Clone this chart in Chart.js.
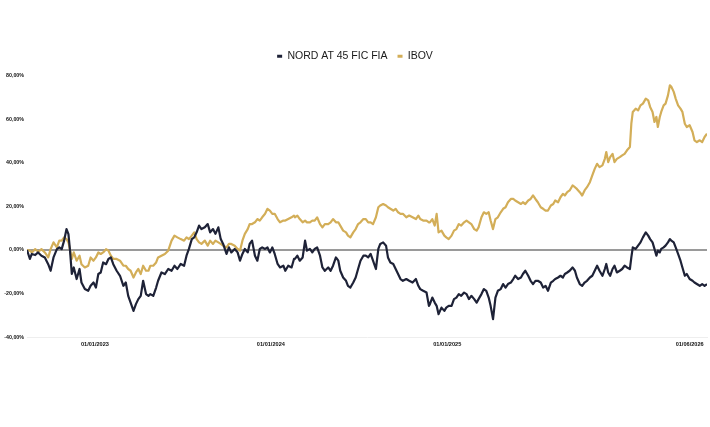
<!DOCTYPE html>
<html>
<head>
    <meta charset="UTF-8">
    <title>NORD AT 45 FIC FIA x IBOV</title>
    <style>
        body { margin: 0; background: #ffffff; }
    </style>
    <script src="https://cdnjs.cloudflare.com/ajax/libs/Chart.js/4.4.1/chart.umd.min.js"></script>
</head>
<body>
    <canvas id="perfChart" width="710" height="427"></canvas>

    <script>
        // days since the first observation (mid Aug 2022)
        const obsDay = [
            0, 6, 10, 17, 23, 30, 37, 44, 49, 55, 62, 67, 72, 77, 82, 86, 89, 93, 97, 103,
            109, 113, 120, 127, 132, 138, 143, 148, 153, 158, 164, 169, 174, 179, 186, 193, 200, 205, 210, 215,
            221, 226, 231, 236, 241, 247, 252, 256, 262, 268, 272,
            279, 286, 293, 300, 306, 312, 319, 326, 331, 336, 342, 347, 352, 357, 362, 369, 375, 380, 386, 391,
            397, 402, 407, 414, 419, 424, 431, 437, 442, 447, 452, 458, 462, 467, 473, 478, 483, 488, 494, 499,
            504, 509, 514, 520, 525, 532, 536, 542, 549, 554,
            556, 561, 566, 572, 577, 581, 587, 592, 597, 602, 608, 613, 618, 625, 630, 635, 641, 646, 650, 656,
            662, 666, 671, 677, 682, 687, 692, 698, 703, 708, 713, 718, 724, 729, 733, 739, 745, 749, 754, 760,
            765, 770, 775, 780, 787, 793, 800, 807, 812, 816, 822, 829, 834,
            836, 841, 846, 850, 854, 860, 866, 870, 875, 881, 886, 891, 896, 901, 907, 912, 917, 922, 928, 933,
            937, 943, 948, 953, 958, 962, 967, 972, 977, 983, 988, 993, 998, 1004, 1009, 1013, 1019, 1025, 1029, 1034,
            1040, 1045, 1050, 1055, 1060, 1066, 1071, 1076, 1081, 1087, 1092, 1096, 1102, 1107, 1112,
            1116, 1121, 1126, 1132, 1137, 1141, 1147, 1152, 1157, 1162, 1168, 1173, 1178, 1183, 1188, 1194, 1199, 1202, 1206, 1210,
            1215, 1219, 1224, 1230, 1235, 1240, 1245, 1251, 1254, 1257, 1263, 1268, 1273, 1278, 1284, 1289, 1293, 1298, 1302, 1306,
            1309, 1313, 1316, 1321, 1325, 1330, 1334, 1337, 1342, 1346, 1351, 1356, 1360, 1365, 1369, 1375, 1381, 1385, 1390, 1396,
            1401, 1406, 1411
        ];

        const nordValues = [
            0, -4.1, -1.8, -2.3, -1.1, -2.6, -3.4, -6.5, -9.5, -3.4, 0.4, 1.2, 0.4, 4.3, 9.6, 7.3, 0.4, -11.0, -8.0, -13.3,
            -8.7, -14.9, -17.9, -18.7, -16.4, -14.9, -17.2, -11.0, -10.3, -5.7, -6.5, -4.1, -3.4, -6.5, -9.5, -11.8, -16.4, -14.9, -21.0, -24.1,
            -27.9, -24.8, -22.5, -21.0, -14.1, -20.2, -21.0, -20.2, -21.0, -17.2, -14.1,
            -10.3, -11.0, -8.7, -9.5, -7.2, -8.7, -6.4, -7.2, -2.6, 0.5, 5.0, 5.8, 8.1, 11.2, 9.6, 10.4, 11.9, 8.1, 9.6, 7.4,
            10.4, 5.0, 2.8, -1.8, 1.2, -1.1, 0.5, -1.1, -4.9, -1.8, 0.5, -1.1, 2.8, 4.3, -2.6, -4.9, 0.5, 1.2, 0.5, 1.2,
            -1.1, 1.2, -1.8, -6.4, -8.0, -7.2, -9.5, -7.2, -8.0, -4.1,
            -4.1, -2.6, -4.9, -3.4, 4.3, -0.3, 0.5, -1.1, 0.5, 1.2, -2.6, -8.0, -9.5, -8.0, -9.5, -7.2, -3.4, -4.9, -9.5, -12.6,
            -14.1, -16.4, -17.2, -14.9, -12.6, -8.7, -4.9, -2.6, -2.6, -3.4, -1.8, -4.9, -8.7, 0.5, 2.8, 3.5, 2.0, -3.4, -5.7, -6.4,
            -8.7, -11.0, -13.3, -14.1, -13.3, -14.1, -14.9, -13.3, -16.4, -17.9, -18.7, -19.5, -25.6,
            -24.8, -21.8, -24.1, -25.6, -29.4, -26.4, -27.9, -26.4, -25.6, -25.6, -22.5, -21.8, -20.2, -21.0, -19.5, -20.2, -22.5, -21.0, -22.5, -24.1,
            -22.5, -20.2, -17.9, -18.7, -21.8, -25.6, -31.7, -21.8, -18.7, -17.9, -15.6, -17.2, -15.6, -14.9, -13.3, -11.8, -13.3, -12.6, -11.0, -9.5,
            -11.8, -14.1, -15.6, -14.1, -14.1, -14.9, -17.2, -16.4, -18.7, -14.9, -14.1, -13.3, -12.6, -11.8, -12.6,
            -11.0, -10.3, -9.5, -8.0, -9.5, -12.6, -15.6, -16.4, -14.9, -14.1, -12.6, -11.8, -9.5, -7.2, -9.5, -11.8, -8.7, -6.4, -10.3, -11.8,
            -8.7, -7.2, -10.3, -9.5, -8.7, -7.2, -8.0, -8.7, -3.4, 1.2, 0.5, 2.0, 3.5, 5.8, 8.1, 6.6, 5.0, 3.5, 0.5, -2.6,
            -0.3, -1.1, 0.5, 1.2, 2.0, 3.5, 5.0, 4.3, 3.5, 1.2, -1.8, -4.9, -8.0, -11.8, -11.0, -13.3, -14.1, -14.9, -15.6, -16.4,
            -15.6, -16.4, -15.6
        ];

        const ibovValues = [
            0, -0.3, -1.1, 0.4, -0.8, 0.4, -1.1, -3.4, 0.4, 3.5, 1.2, 4.3, 4.3, 5.8, 5.0, 3.5, 0.4, -4.1, -1.1, -4.9,
            -2.6, -6.5, -8.0, -7.2, -3.4, -4.9, -3.4, -1.1, -1.8, -1.1, 0.4, -0.3, -2.6, -4.1, -4.1, -4.9, -7.2, -7.2, -8.7, -9.5,
            -12.6, -10.3, -8.7, -11.0, -7.2, -9.5, -9.5, -7.2, -7.2, -5.7, -3.4,
            -2.6, -1.8, -0.3, 4.3, 6.6, 5.8, 5.0, 4.3, 5.8, 5.0, 6.6, 8.1, 5.0, 3.5, 2.8, 4.3, 2.0, 4.3, 2.8, 4.3,
            3.5, 2.8, 2.0, 1.2, 2.8, 2.8, 2.0, 0.5, -0.3, 4.3, 7.4, 9.6, 11.9, 11.9, 12.7, 14.2, 13.5, 15.0, 16.6, 18.9,
            18.1, 16.6, 16.6, 14.2, 12.7, 13.5, 13.5, 14.2, 15.0, 15.8,
            15.0, 15.8, 14.2, 12.7, 13.5, 12.7, 12.7, 13.5, 13.5, 15.0, 11.9, 10.4, 11.9, 11.9, 12.7, 14.2, 12.7, 12.7, 11.2, 8.9,
            8.1, 6.6, 5.8, 8.1, 9.6, 11.9, 12.7, 14.2, 14.2, 12.7, 12.7, 11.9, 15.0, 19.6, 20.4, 21.1, 20.4, 19.6, 18.9, 18.1,
            18.9, 17.3, 16.6, 16.6, 15.0, 15.8, 15.0, 14.2, 15.8, 14.2, 13.5, 13.5, 12.7,
            12.7, 14.2, 11.2, 16.6, 8.1, 8.9, 6.6, 5.8, 5.0, 6.6, 8.9, 9.6, 11.9, 11.2, 12.7, 13.5, 12.7, 11.9, 9.6, 8.9,
            10.4, 15.0, 17.3, 16.6, 17.3, 13.5, 9.6, 14.2, 15.0, 17.3, 18.9, 19.6, 21.9, 23.4, 23.4, 22.7, 21.9, 21.1, 21.9, 21.1,
            22.7, 23.4, 25.0, 23.4, 21.9, 19.6, 18.9, 18.1, 18.1, 20.4, 21.1, 22.7, 21.9, 24.2, 25.7,
            25.0, 26.5, 27.3, 29.6, 28.8, 28.0, 26.5, 25.0, 27.3, 28.8, 31.1, 34.2, 37.2, 39.5, 38.0, 38.8, 41.8, 44.9, 40.3, 42.6,
            44.1, 40.3, 41.8, 42.6, 43.4, 44.1, 45.7, 47.2, 57.9, 63.3, 64.8, 64.0, 66.3, 67.1, 69.4, 68.6, 65.6, 63.3, 58.7, 61.0,
            56.4, 61.0, 63.3, 66.3, 67.1, 70.9, 75.5, 74.8, 72.5, 69.4, 66.3, 64.8, 63.3, 57.9, 56.4, 57.2, 54.1, 50.3, 49.5, 50.3,
            49.5, 51.8, 53.3
        ];

        const seriesNames = ["NORD AT 45 FIC FIA", "IBOV"];
        const tickDays = [141, 506, 872, 1375];
        const tickLabels = ["01/01/2023", "01/01/2024", "01/01/2025", "01/06/2026"];

        const NAVY = "#1e2237";
        const GOLD = "#d3ae58";
        const FONT = "'Liberation Sans', Arial, sans-serif";

        const toPoints = vals => vals.map((v, i) => ({ x: obsDay[i], y: v }));

        // a little space between legend and plot
        const legendGap = {
            id: "legendGap",
            beforeInit(chart) {
                const fit = chart.legend.fit;
                chart.legend.fit = function () {
                    fit.bind(chart.legend)();
                    this.height += 4;
                };
            }
        };

        const ctx = document.getElementById("perfChart").getContext("2d");
        new Chart(ctx, {
            type: "line",
            data: {
                datasets: [
                    { label: seriesNames[0], data: toPoints(nordValues), borderColor: NAVY, backgroundColor: NAVY, borderWidth: 2.2, pointRadius: 0, tension: 0, fill: false, borderJoinStyle: "round" },
                    { label: seriesNames[1], data: toPoints(ibovValues), borderColor: GOLD, backgroundColor: GOLD, borderWidth: 2.2, pointRadius: 0, tension: 0, fill: false, borderJoinStyle: "round" },
                ],
            },
            options: {
                responsive: false,
                animation: false,
                layout: { padding: { top: 41, left: 3, right: 3, bottom: 75 } },
                plugins: {
                    tooltip: { enabled: false },
                    legend: {
                        position: "top",
                        labels: {
                            boxWidth: 5,
                            boxHeight: 3,
                            padding: 10,
                            color: "#1a1a1a",
                            font: { family: FONT, size: 10.5 },
                            generateLabels(chart) {
                                return Chart.defaults.plugins.legend.labels.generateLabels(chart)
                                    .map(item => Object.assign(item, { lineWidth: 0 }));
                            },
                        },
                    },
                },
                scales: {
                    x: {
                        type: "linear",
                        min: 0,
                        max: 1411,
                        grid: { display: false, drawTicks: false },
                        border: { display: true, color: "#eeeeee", width: 1 },
                        afterBuildTicks: axis => { axis.ticks = tickDays.map(v => ({ value: v })); },
                        ticks: {
                            autoSkip: false,
                            maxRotation: 0,
                            padding: 4,
                            color: "#111111",
                            font: { family: FONT, size: 5.6, weight: "bold" },
                            callback: value => {
                                const i = tickDays.indexOf(value);
                                return i >= 0 ? tickLabels[i] : "";
                            },
                        },
                    },
                    y: {
                        min: -40,
                        max: 80,
                        afterFit: scale => { scale.width = 24; },
                        border: { display: false },
                        grid: {
                            drawTicks: false,
                            color: c => (c.tick && c.tick.value === 0 ? "#9a9a9a" : "rgba(0,0,0,0)"),
                            lineWidth: c => (c.tick && c.tick.value === 0 ? 2 : 0),
                        },
                        ticks: {
                            stepSize: 20,
                            padding: 3,
                            color: "#111111",
                            font: { family: FONT, size: 5.3, weight: "bold" },
                            callback: v => v.toFixed(2).replace(".", ",") + "%",
                        },
                    },
                },
            },
            plugins: [legendGap],
        });
    </script>
</body>
</html>
